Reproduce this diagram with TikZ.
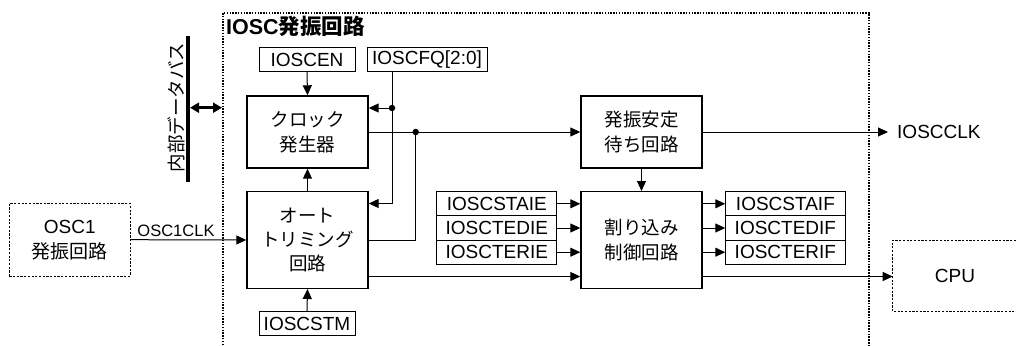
\documentclass[tikz,border=0pt]{standalone}
\usepackage{fontspec}
\setmainfont{Liberation Sans}
\newfontfamily\jp{Noto Sans CJK JP}
\usetikzlibrary{arrows.meta}
\begin{document}
\begin{tikzpicture}[x=1pt,y=-1pt,
  reg/.style={draw,line width=1pt,inner sep=0pt,minimum height=24pt,font=\fontsize{19}{23}\selectfont},
  blk/.style={draw,line width=1.4pt,align=center,inner sep=0pt,minimum width=121pt,font=\jp\fontsize{18.5}{25}\selectfont},
  con/.style={line width=1pt},
  arr/.style={con,-{Triangle[length=10pt,width=9pt]}},
  jdot/.style={circle,fill,inner sep=0pt,minimum size=6.5pt},
  frame/.style={line width=2pt,dash pattern=on 1.5pt off 1.3pt},
  ext/.style={line width=1pt,dash pattern=on 2.2pt off 1.5pt},
]
\useasboundingbox (0,0) rectangle (1016,345);

% outer frame
\draw[frame] (223,345) -- (223,12.7) -- (869,12.7) -- (869,345);
\node[anchor=base west,inner sep=0pt,font=\fontsize{21.5}{24}\selectfont\bfseries] (title) at (226,34.5) {IOSC{\jp 発振回路}};

% data bus
\coordinate (bustop) at (187.7,36);
\coordinate (busbot) at (187.7,182);
\draw[line width=4pt] (bustop) -- (busbot);
\node[rotate=90,inner sep=0pt,font=\jp\fontsize{18.5}{22}\selectfont] (buslbl) at (176,107.5) {内部データバス};
\coordinate (busr) at (190,107.7);
\coordinate (frl) at (222,107.7);
\draw[line width=2.5pt,{Triangle[length=9pt,width=10pt]}-{Triangle[length=9pt,width=10pt]}] (busr) -- (frl);

% main blocks
\node[blk,minimum height=72pt] (clk) at (307.5,132) {クロック\\発生器};
\node[blk,minimum height=96.6pt,font=\jp\fontsize{18.5}{24}\selectfont] (trim) at (307.5,240) {オート\\トリミング\\回路};
\node[blk,minimum height=72pt] (stab) at (641.5,132) {発振安定\\待ち回路};
\node[blk,minimum height=96.6pt] (intr) at (641.5,240) {割り込み\\制御回路};

% registers
\node[reg,minimum width=96pt,minimum height=23pt] (ioscen) at (307,59.5) {IOSCEN};
\node[reg,minimum width=120pt,minimum height=23pt] (ioscfq) at (427,59.5) {IOSCFQ[2:0]};
\node[reg,minimum width=96pt] (ioscstm) at (307,323.7) {IOSCSTM};

\node[reg,minimum width=120.3pt,minimum height=24.2pt] (ie1) at (496.8,203.8) {IOSCSTAIE};
\node[reg,minimum width=120.3pt,minimum height=24.2pt] (ie2) at (496.8,228) {IOSCTEDIE};
\node[reg,minimum width=120.3pt,minimum height=24.2pt] (ie3) at (496.8,252.2) {IOSCTERIE};

\node[reg,minimum width=119.3pt,minimum height=24.2pt] (if1) at (785.4,203.8) {IOSCSTAIF};
\node[reg,minimum width=119.3pt,minimum height=24.2pt] (if2) at (785.4,228) {IOSCTEDIF};
\node[reg,minimum width=119.3pt,minimum height=24.2pt] (if3) at (785.4,252.2) {IOSCTERIF};

% external blocks
\node[ext,draw,minimum width=120.7pt,minimum height=72.7pt,align=center,inner sep=0pt,font=\fontsize{19}{25}\selectfont] (osc1) at (69.7,239.7) {OSC1\\{\jp 発振回路}};
\draw[ext] (1016,240) -- (892.7,240) -- (892.7,311.7) -- (1016,311.7);
\node[inner sep=0pt,font=\fontsize{19}{23}\selectfont] (cpu) at (955,276) {CPU};
\coordinate (cpuw) at (892.7,276.5);

% connectors
\draw[arr] (ioscen.south) -- (clk.north);
\draw[arr] (trim.north) -- (clk.south);
\draw[arr] (ioscstm.north) -- (trim.south);

\coordinate (fqdot) at (392,108);
\coordinate (fqbot) at (392,203.5);
\draw[con] (ioscfq.south -| fqdot) -- (fqbot);
\draw[arr] (fqbot) -- (fqbot -| trim.east);
\draw[arr] (fqdot) -- (fqdot -| clk.east);
\node[jdot] (fqd) at (fqdot) {};

\coordinate (ckdot) at (415.7,132);
\draw[arr] (clk.east) -- (stab.west);
\draw[con] (trim.east) -| (ckdot);
\node[jdot] (ckd) at (ckdot) {};

\draw[arr] (osc1.east) -- (trim.west);
\node[anchor=base,inner sep=0pt,font=\fontsize{16.5}{20}\selectfont] (osclbl) at (176,236) {OSC1CLK};

\coordinate (t2) at ([yshift=-36.5pt]trim.east);
\draw[arr] (t2) -- (t2 -| intr.west);

\draw[arr] (stab.south) -- (intr.north);

\coordinate (clkend) at (888,132);
\draw[arr] (stab.east) -- (clkend);
\node[anchor=west,inner sep=0pt,font=\fontsize{19}{23}\selectfont] (iosclk) at (897,132) {IOSCCLK};

\draw[arr] (ie1.east) -- (ie1.east -| intr.west);
\draw[arr] (ie2.east) -- (ie2.east -| intr.west);
\draw[arr] (ie3.east) -- (ie3.east -| intr.west);

\draw[arr] (if1.west -| intr.east) -- (if1.west);
\draw[arr] (if2.west -| intr.east) -- (if2.west);
\draw[arr] (if3.west -| intr.east) -- (if3.west);

\coordinate (i2) at ([yshift=-36.5pt]intr.east);
\draw[arr] (i2) -- (cpuw);
\end{tikzpicture}
\end{document}
